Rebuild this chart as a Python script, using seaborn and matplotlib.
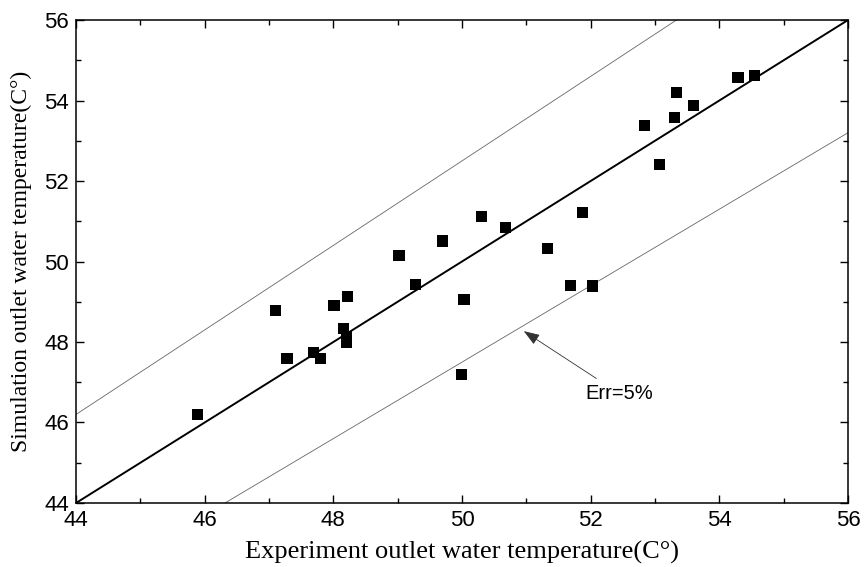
import numpy as np
import pandas as pd
import matplotlib
matplotlib.use("Agg")
import matplotlib.pyplot as plt
import seaborn as sns
from matplotlib.ticker import MultipleLocator

# Measured outlet water temperatures (experiment vs simulation), deg C
experiment = [45.89, 47.10, 47.28, 47.69, 47.80, 48.01, 48.22, 48.16, 48.20, 48.20,
              49.02, 49.27, 49.69, 50.03, 49.99, 50.30, 50.67, 51.33, 51.68, 51.87,
              52.03, 52.84, 53.07, 53.30, 53.34, 53.60, 54.29, 54.55]
simulation = [46.20, 48.79, 47.60, 47.73, 47.58, 48.91, 49.12, 48.33, 48.13, 47.98,
              50.14, 49.43, 50.51, 49.05, 47.20, 51.12, 50.84, 50.32, 49.41, 51.22,
              49.39, 53.37, 52.42, 53.57, 54.20, 53.88, 54.58, 54.63]

axis_limits = [44, 56]
err_band = 0.05
ticks = [44, 46, 48, 50, 52, 54, 56]

df = pd.DataFrame({"experiment": experiment, "simulation": simulation})

sns.set_theme(style="white")
plt.rcParams["font.family"] = ["Liberation Sans", "DejaVu Sans"]
plt.rcParams["text.color"] = "black"
plt.rcParams["axes.labelcolor"] = "black"
plt.rcParams["xtick.color"] = "black"
plt.rcParams["ytick.color"] = "black"

fig = plt.figure(figsize=(8.67, 5.67), dpi=100)
ax = fig.add_axes([0.0877, 0.1129, 0.8904, 0.8518])

# Reference lines: perfect agreement and +/- 5 % error band
xs = np.array(axis_limits, dtype=float)
ax.plot(xs, xs, color="black", lw=1.4, zorder=2)
ax.plot(xs, xs * (1 + err_band), color="#666666", lw=0.6, zorder=2)
ax.plot(xs, xs * (1 - err_band), color="#666666", lw=0.6, zorder=2)

sns.scatterplot(data=df, x="experiment", y="simulation", marker="s", s=64,
                color="black", edgecolor="none", linewidth=0, ax=ax, zorder=3)

ax.annotate("Err=5%", xy=(50.96, 48.27), xytext=(51.92, 46.72),
            fontsize=14.5, va="center", ha="left", color="black",
            arrowprops=dict(arrowstyle="-|>,head_length=0.7,head_width=0.25",
                            color="#333333", lw=0.6, mutation_scale=14,
                            shrinkA=3, shrinkB=0))

ax.set_xlim(axis_limits)
ax.set_ylim(axis_limits)
ax.set_xticks(ticks)
ax.set_yticks(ticks)
ax.xaxis.set_minor_locator(MultipleLocator(1))
ax.yaxis.set_minor_locator(MultipleLocator(1))
ax.tick_params(which="both", direction="in", top=True, right=True,
               bottom=True, left=True, color="black", width=1.0)
ax.tick_params(which="major", length=6, labelsize=16, pad=5)
ax.tick_params(which="minor", length=3.5)

for sp in ax.spines.values():
    sp.set_color("black")
    sp.set_linewidth(1.1)

ax.set_xlabel("Experiment outlet water temperature(C°)", family="Liberation Serif",
              fontsize=19, labelpad=7)
ax.set_ylabel("Simulation outlet water temperature(C°)", family="Liberation Serif",
              fontsize=17, labelpad=9)

fig.savefig("out.png", dpi=100)
